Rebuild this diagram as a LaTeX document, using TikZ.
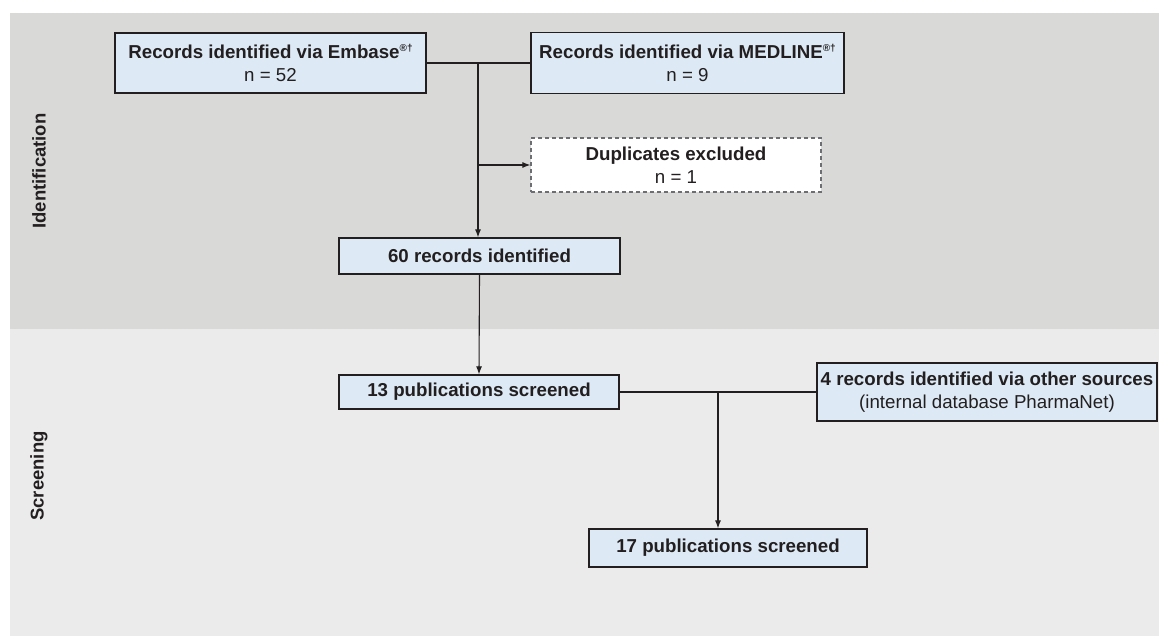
\documentclass[tikz,border=0pt]{standalone}
\usepackage{fontspec}
\setmainfont{Liberation Sans}
\usetikzlibrary{arrows.meta}
\definecolor{bandA}{HTML}{D9D9D8}
\definecolor{bandB}{HTML}{EBEBEB}
\definecolor{boxfill}{HTML}{DDEAF5}
\definecolor{ink}{HTML}{231F20}
\definecolor{dashink}{HTML}{6D6E71}
\newcommand{\regdag}{\raisebox{6.5pt}{\fontsize{10}{10}\selectfont ®†}}
\begin{document}
\begin{tikzpicture}[x=1pt,y=-1pt,
  every node/.style={font=\fontsize{18.7}{23}\selectfont, text=ink},
  box/.style={draw=ink, line width=1.2pt, fill=boxfill, align=center, inner sep=0pt},
  dbox/.style={draw=dashink, dashed, dash pattern=on 4pt off 3pt, line width=1.2pt, fill=white, align=center, inner sep=0pt},
  conn/.style={draw=ink, line width=1.1pt},
  arr/.style={conn, -{Latex[length=8pt,width=6pt]}},
  phase/.style={rotate=90, font=\fontsize{18.5}{22}\selectfont\bfseries}]
\useasboundingbox (0,0) rectangle (1159,636);
\fill[bandA] (10,13) rectangle (1159,329);
\fill[bandB] (10,329) rectangle (1159,636);
\node[phase] (lid) at (39,171) {Identification};
\node[phase] (lsc) at (39,476) {Screening};

\node[box, minimum width=311pt, minimum height=60pt] (emb) at (270.5,63)
  {\textbf{Records identified via Embase\regdag}\\n = 52};
\node[box, minimum width=313pt, minimum height=61pt] (mdl) at (687.5,63)
  {\textbf{Records identified via MEDLINE\regdag}\\n = 9};
\node[dbox, minimum width=290pt, minimum height=54pt] (dup) at (676,165)
  {\textbf{Duplicates excluded}\\n = 1};
\node[box, minimum width=281pt, minimum height=36pt] (r60) at (479.5,256)
  {\textbf{60 records identified}};
\node[box, minimum width=280pt, minimum height=34pt] (p13) at (479,392)
  {\textbf{13 publications screened}};
\node[box, minimum width=340pt, minimum height=58pt] (oth) at (987,392)
  {\textbf{4 records identified via other sources}\\(internal database PharmaNet)};
\node[box, minimum width=278pt, minimum height=38pt] (p17) at (728,548)
  {\textbf{17 publications screened}};

\coordinate (j1) at (478,63);
\coordinate (j2) at (478,165);
\coordinate (j3) at (718,392);
\draw[conn] (emb.east) -- (mdl.west);
\draw[arr] (j1) -- (j1 |- r60.north);
\draw[arr] (j2) -- (dup.west);
\draw[arr] (r60.south) -- (p13.north);
\draw[conn] (p13.east) -- (oth.west);
\draw[arr] (j3) -- (j3 |- p17.north);
\end{tikzpicture}
\end{document}
